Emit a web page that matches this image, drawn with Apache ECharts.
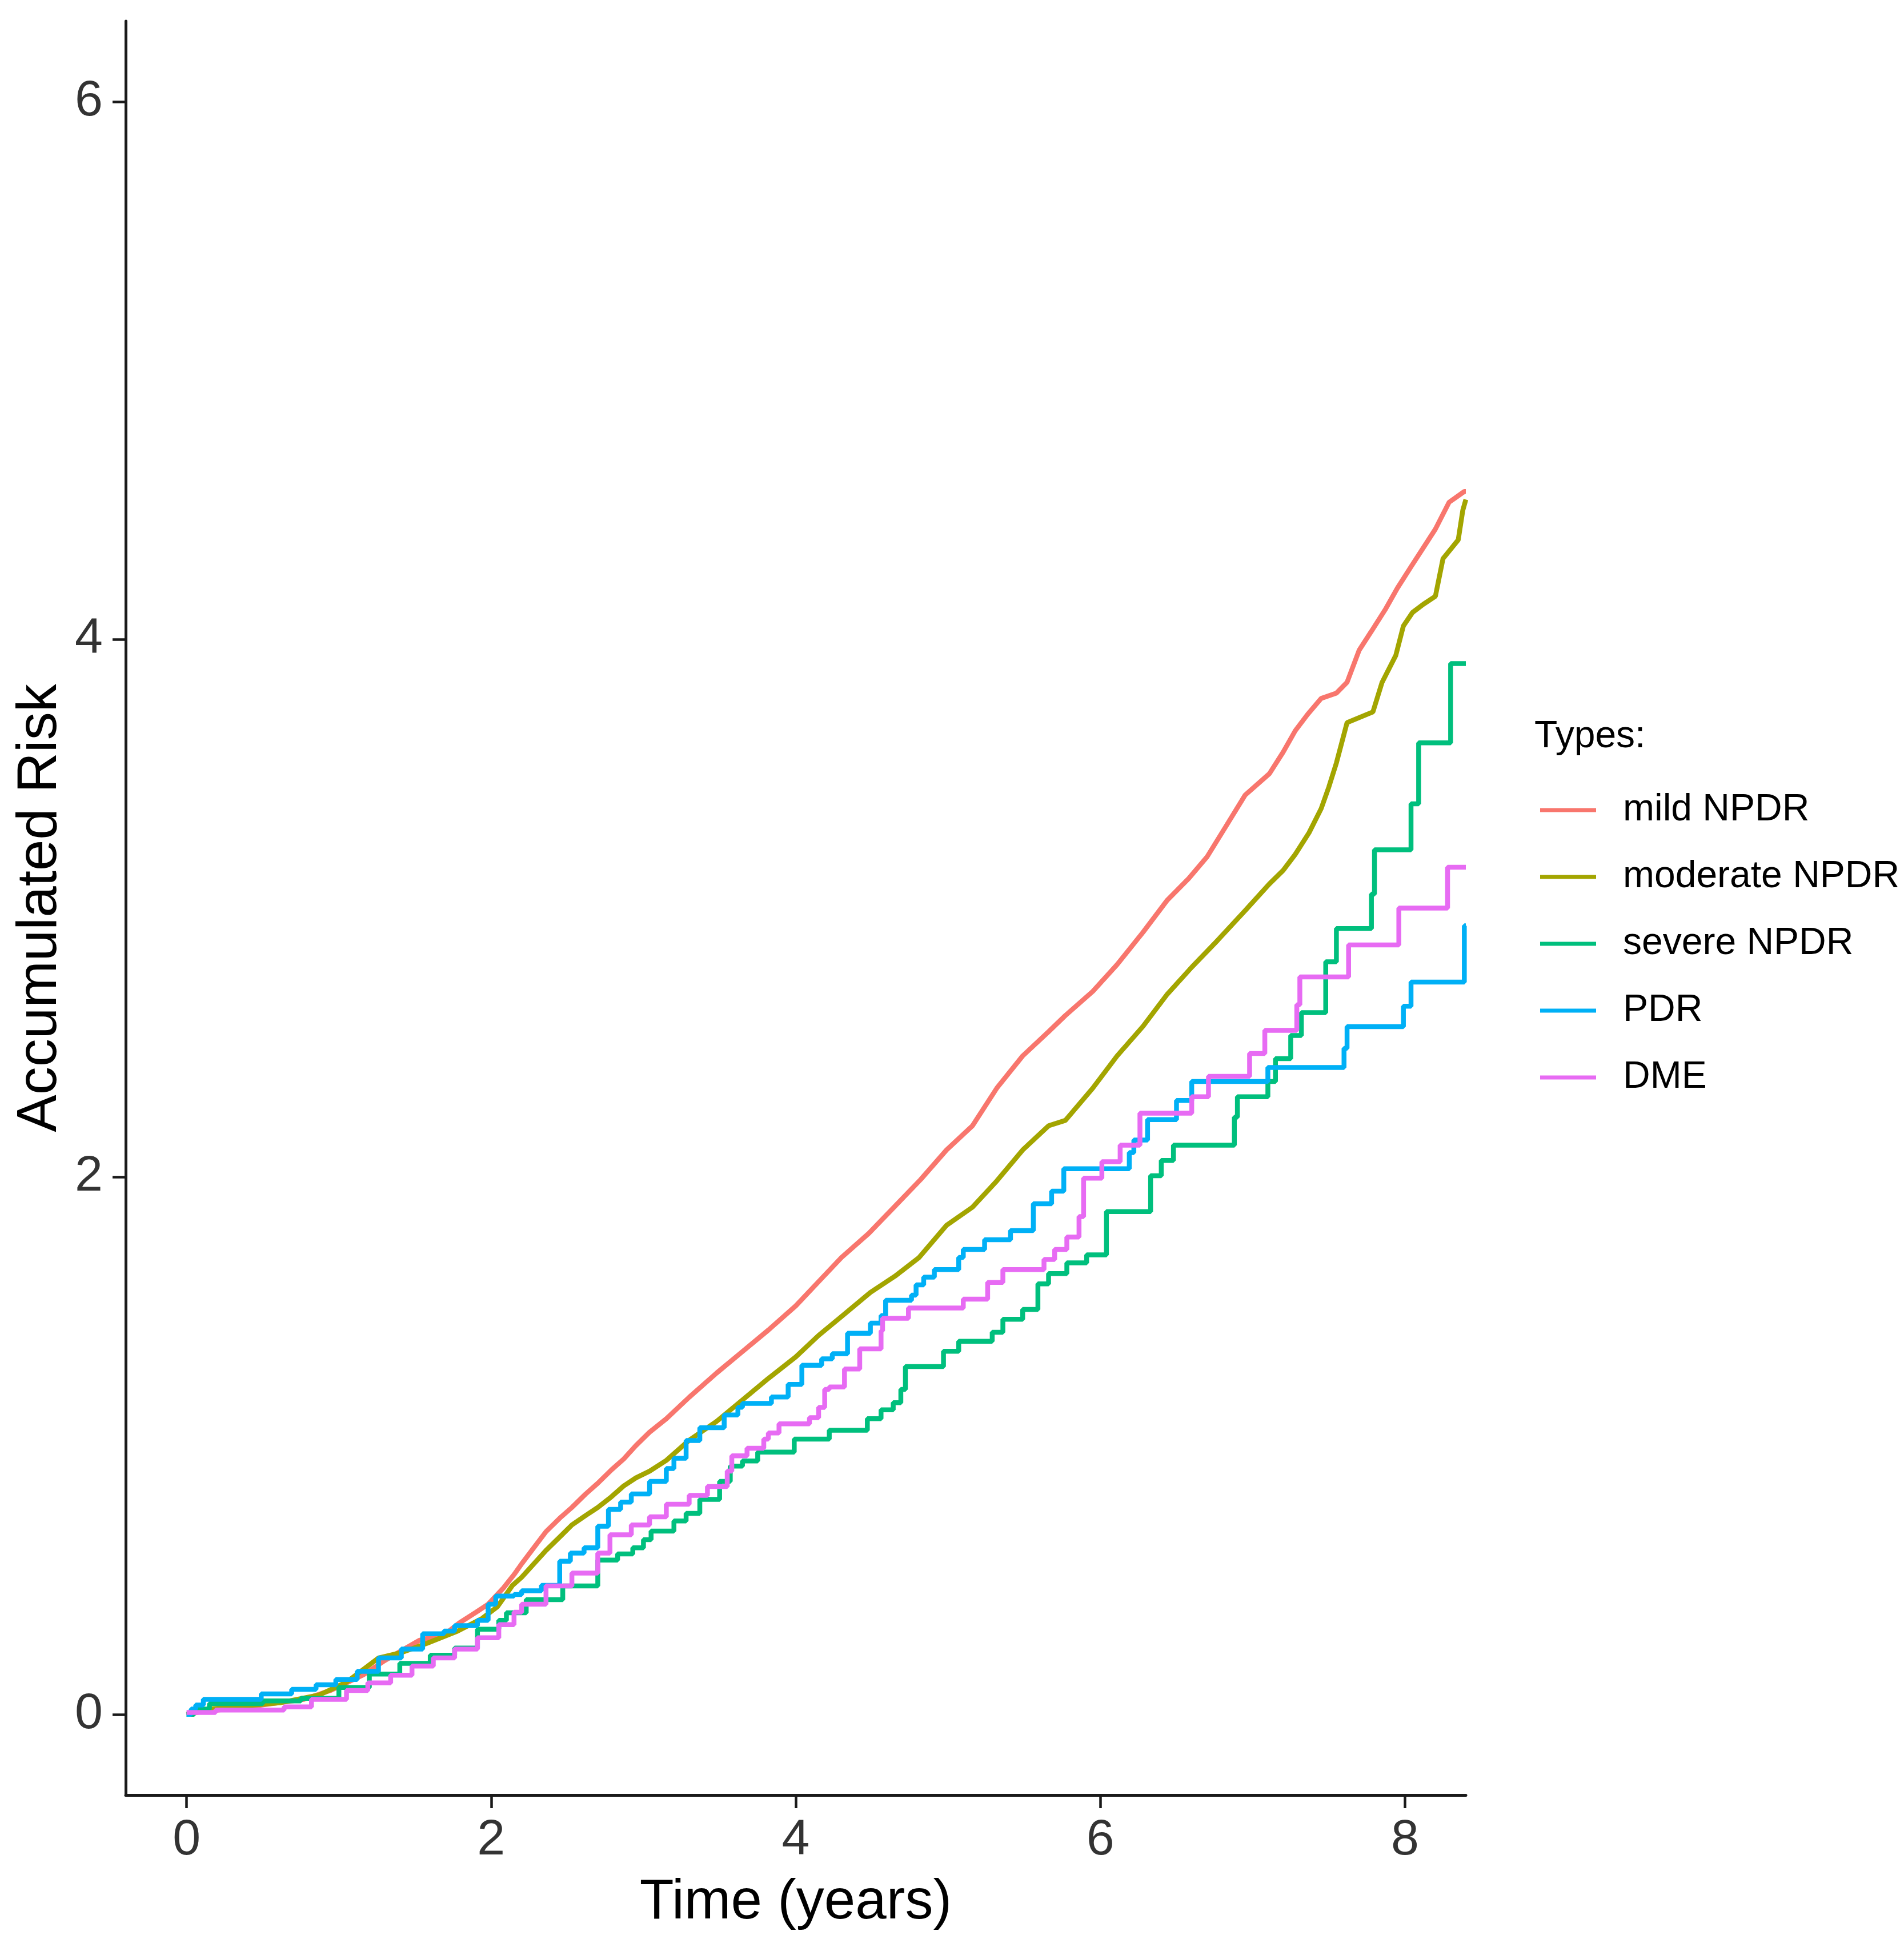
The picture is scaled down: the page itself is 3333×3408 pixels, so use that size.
<!DOCTYPE html>
<html>
<head>
<meta charset="utf-8">
<script src="https://cdn.jsdelivr.net/npm/echarts@6/dist/echarts.min.js"></script>
<style>
html,body{margin:0;padding:0;background:#fff;}
#chart{width:3333px;height:3408px;}
</style>
</head>
<body>
<div id="chart"></div>
<script>
const seriesNames = ['mild NPDR', 'moderate NPDR', 'severe NPDR', 'PDR', 'DME'];
const seriesColors = ['#F8766D', '#A3A500', '#00BF7D', '#00B0F6', '#E76BF3'];
const seriesStep = [false, false, 'end', 'end', 'end'];
const xTicks = [0, 2, 4, 6, 8];
const yTicks = [0, 2, 4, 6];

// [time (years), accumulated risk] points
const mildNPDR = [[0,0],[0.1,0.01],[0.4,0.028],[0.77,0.056],[0.95,0.09],[1.16,0.147],[1.3,0.2],[1.45,0.25],[1.53,0.276],[1.7,0.3],[1.79,0.34],[1.9,0.38],[1.98,0.41],[2.08,0.47],[2.15,0.52],[2.2,0.56],[2.28,0.62],[2.36,0.68],[2.45,0.73],[2.53,0.77],[2.62,0.82],[2.7,0.86],[2.79,0.91],[2.87,0.95],[2.95,1.0],[3.04,1.05],[3.15,1.1],[3.3,1.18],[3.48,1.27],[3.65,1.35],[3.82,1.43],[4.0,1.52],[4.15,1.61],[4.3,1.7],[4.48,1.79],[4.65,1.89],[4.82,1.99],[4.99,2.1],[5.16,2.19],[5.32,2.33],[5.49,2.45],[5.66,2.54],[5.77,2.6],[5.95,2.69],[6.11,2.79],[6.28,2.91],[6.44,3.03],[6.58,3.11],[6.7,3.19],[6.82,3.3],[6.95,3.42],[7.11,3.5],[7.2,3.58],[7.28,3.66],[7.36,3.72],[7.45,3.78],[7.55,3.8],[7.62,3.84],[7.7,3.96],[7.78,4.03],[7.87,4.11],[7.95,4.19],[8.04,4.27],[8.12,4.34],[8.2,4.41],[8.29,4.51],[8.34,4.53],[8.39,4.55],[8.4,4.55]];
const moderateNPDR = [[0,0],[0.15,0.02],[0.62,0.044],[0.87,0.072],[1.05,0.12],[1.26,0.21],[1.41,0.23],[1.58,0.265],[1.78,0.31],[1.94,0.357],[2.04,0.4],[2.14,0.48],[2.2,0.51],[2.28,0.56],[2.36,0.61],[2.45,0.66],[2.53,0.705],[2.62,0.74],[2.7,0.77],[2.79,0.81],[2.87,0.85],[2.95,0.88],[3.04,0.905],[3.15,0.945],[3.3,1.02],[3.48,1.09],[3.65,1.17],[3.82,1.25],[4.0,1.33],[4.15,1.41],[4.3,1.48],[4.49,1.57],[4.65,1.63],[4.81,1.7],[4.99,1.82],[5.16,1.887],[5.32,1.985],[5.49,2.1],[5.66,2.19],[5.77,2.21],[5.95,2.33],[6.11,2.45],[6.28,2.56],[6.44,2.68],[6.6,2.78],[6.77,2.88],[6.95,2.99],[7.11,3.09],[7.2,3.14],[7.28,3.2],[7.37,3.28],[7.45,3.37],[7.5,3.45],[7.55,3.54],[7.62,3.69],[7.79,3.73],[7.85,3.84],[7.94,3.94],[7.99,4.05],[8.05,4.1],[8.12,4.13],[8.2,4.16],[8.25,4.3],[8.35,4.37],[8.38,4.48],[8.4,4.52]];
const severeNPDR = [[0,0],[0.05,0.02],[0.15,0.04],[0.5,0.05],[0.75,0.06],[1.0,0.1],[1.2,0.15],[1.4,0.19],[1.6,0.22],[1.76,0.247],[1.91,0.317],[2.05,0.35],[2.1,0.378],[2.23,0.427],[2.47,0.478],[2.7,0.574],[2.83,0.597],[2.93,0.62],[3.0,0.65],[3.05,0.682],[3.2,0.72],[3.28,0.748],[3.37,0.8],[3.5,0.867],[3.57,0.924],[3.65,0.943],[3.75,0.976],[3.99,1.024],[4.22,1.057],[4.47,1.1],[4.56,1.133],[4.64,1.16],[4.69,1.209],[4.72,1.294],[4.97,1.351],[5.07,1.388],[5.29,1.422],[5.36,1.47],[5.49,1.507],[5.59,1.602],[5.66,1.64],[5.78,1.68],[5.91,1.71],[6.04,1.871],[6.33,2.004],[6.4,2.061],[6.48,2.118],[6.88,2.222],[6.9,2.298],[7.1,2.355],[7.15,2.44],[7.25,2.526],[7.32,2.611],[7.48,2.8],[7.55,2.924],[7.78,3.052],[7.8,3.217],[8.04,3.388],[8.09,3.615],[8.3,3.91],[8.4,3.91]];
const PDR = [[0,0],[0.03,0.02],[0.06,0.035],[0.11,0.056],[0.49,0.076],[0.69,0.093],[0.85,0.11],[0.98,0.13],[1.12,0.16],[1.26,0.21],[1.41,0.243],[1.55,0.3],[1.69,0.31],[1.76,0.33],[1.91,0.35],[1.98,0.41],[2.03,0.44],[2.15,0.446],[2.2,0.46],[2.33,0.48],[2.45,0.57],[2.52,0.6],[2.61,0.62],[2.7,0.7],[2.77,0.763],[2.85,0.79],[2.92,0.82],[3.04,0.867],[3.15,0.915],[3.2,0.953],[3.28,1.019],[3.37,1.067],[3.53,1.114],[3.62,1.143],[3.65,1.157],[3.84,1.181],[3.95,1.228],[4.04,1.299],[4.17,1.323],[4.24,1.342],[4.34,1.418],[4.49,1.456],[4.56,1.484],[4.59,1.541],[4.76,1.56],[4.79,1.598],[4.84,1.627],[4.91,1.655],[5.07,1.7],[5.1,1.73],[5.24,1.766],[5.41,1.8],[5.56,1.9],[5.68,1.947],[5.76,2.03],[6.19,2.09],[6.22,2.137],[6.31,2.213],[6.5,2.284],[6.6,2.355],[7.1,2.407],[7.6,2.478],[7.62,2.559],[7.99,2.635],[8.04,2.725],[8.39,2.934],[8.4,2.934]];
const DME = [[0,0.007],[0.19,0.016],[0.64,0.028],[0.82,0.056],[1.05,0.089],[1.19,0.117],[1.34,0.146],[1.48,0.18],[1.62,0.21],[1.76,0.243],[1.91,0.285],[2.05,0.334],[2.15,0.38],[2.2,0.41],[2.36,0.478],[2.53,0.526],[2.7,0.6],[2.78,0.668],[2.92,0.705],[3.04,0.735],[3.15,0.782],[3.3,0.815],[3.42,0.848],[3.55,0.905],[3.58,0.962],[3.68,0.99],[3.79,1.024],[3.82,1.047],[3.89,1.081],[4.09,1.104],[4.15,1.142],[4.19,1.209],[4.22,1.218],[4.32,1.285],[4.42,1.36],[4.56,1.427],[4.57,1.474],[4.74,1.512],[5.1,1.545],[5.26,1.607],[5.36,1.655],[5.63,1.693],[5.7,1.73],[5.78,1.776],[5.86,1.852],[5.89,1.995],[6.01,2.056],[6.13,2.118],[6.26,2.237],[6.6,2.298],[6.71,2.374],[6.98,2.459],[7.08,2.545],[7.29,2.64],[7.31,2.744],[7.63,2.863],[7.96,3.0],[8.28,3.152],[8.4,3.152]];

const seriesData = [mildNPDR, moderateNPDR, severeNPDR, PDR, DME];

const chart = echarts.init(document.getElementById('chart'), null, {renderer: 'canvas'});
const FONT = 'Liberation Sans';
const axisColor = '#1a1a1a';

chart.setOption({
  animation: false,
  backgroundColor: '#ffffff',
  textStyle: {fontFamily: FONT},
  title: {
    text: 'Types:',
    left: 2686, top: 1257, padding: 0,
    textStyle: {fontFamily: FONT, fontSize: 66, fontWeight: 'normal', color: '#000'}
  },
  legend: {
    orient: 'vertical',
    left: 2696, top: 1385,
    padding: 0,
    itemGap: 51,
    itemWidth: 98, itemHeight: 7,
    icon: 'rect',
    textStyle: {fontFamily: FONT, fontSize: 66, color: '#000', lineHeight: 66, padding: [0, 0, 0, 42]},
    data: seriesNames
  },
  grid: {left: 220, right: 767, top: 37, bottom: 266, containLabel: false},
  xAxis: {
    type: 'value', min: -0.4, max: 8.4,
    name: 'Time (years)', nameLocation: 'middle', nameGap: 140,
    nameTextStyle: {fontFamily: FONT, fontSize: 98, color: '#000'},
    axisLine: {show: true, onZero: false, lineStyle: {color: axisColor, width: 5}},
    axisTick: {show: true, length: 23, lineStyle: {color: axisColor, width: 4.5}, customValues: xTicks},
    axisLabel: {fontFamily: FONT, fontSize: 88, color: '#333333', margin: 36, customValues: xTicks},
    splitLine: {show: false}
  },
  yAxis: {
    type: 'value', min: -0.3, max: 6.3,
    name: 'Accumulated Risk', nameLocation: 'middle', nameGap: 96,
    nameTextStyle: {fontFamily: FONT, fontSize: 98, color: '#000'},
    axisLine: {show: true, onZero: false, lineStyle: {color: axisColor, width: 5}},
    axisTick: {show: true, length: 23, lineStyle: {color: axisColor, width: 4.5}, customValues: yTicks},
    axisLabel: {fontFamily: FONT, fontSize: 88, color: '#333333', margin: 40, customValues: yTicks},
    splitLine: {show: false}
  },
  series: seriesNames.map((name, i) => ({
    name: name,
    type: 'line',
    step: seriesStep[i],
    data: seriesData[i],
    showSymbol: false,
    symbol: 'none',
    color: seriesColors[i],
    lineStyle: {color: seriesColors[i], width: 8.5},
    itemStyle: {color: seriesColors[i]},
    clip: true
  }))
});
</script>
</body>
</html>
